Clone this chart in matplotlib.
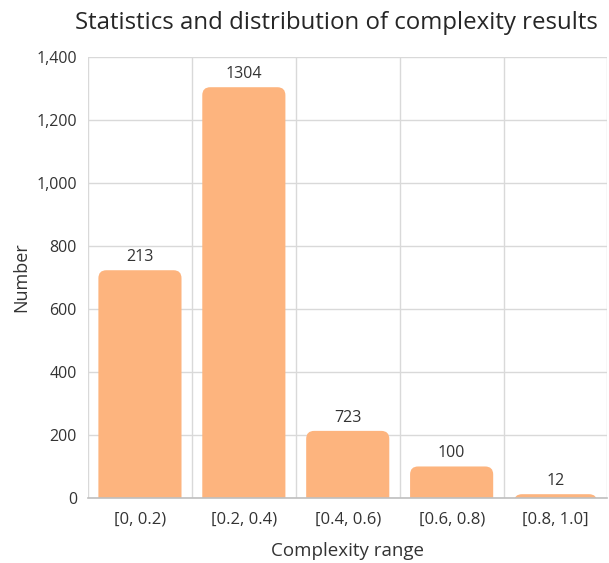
import matplotlib.pyplot as plt
from matplotlib.patches import FancyBboxPatch
from matplotlib.ticker import FuncFormatter

plt.rcParams['font.family'] = ['Open Sans', 'DejaVu Sans']

# Complexity histogram
ranges = ["[0, 0.2)", "[0.2, 0.4)", "[0.4, 0.6)", "[0.6, 0.8)", "[0.8, 1.0]"]
counts = [723, 1304, 213, 100, 12]
count_labels = ["213", "1304", "723", "100", "12"]

bar_color = "#FDB47E"
text_color = "#333333"
grid_color = "#D9D9D9"

fig = plt.figure(figsize=(6.09, 5.63), dpi=100)
ax = fig.add_axes([0.1445, 0.1155, 0.853, 0.7833])

ax.set_xlim(-0.5, len(ranges) - 0.5)
ax.set_ylim(0, 1400)

# bars with rounded top corners; the lower part sits below zero and gets clipped
bar_w = 0.8
x_per_px = (len(ranges)) / (0.853 * 609)
y_per_px = 1400 / (0.7833 * 563)
aspect = y_per_px / x_per_px
radius = 8 * x_per_px
for i, h in enumerate(counts):
    extend = 2 * radius * aspect
    patch = FancyBboxPatch((i - bar_w / 2, -extend), bar_w, h + extend,
                           boxstyle=f"round,pad=0,rounding_size={radius}",
                           mutation_aspect=aspect,
                           facecolor=bar_color, edgecolor="none", zorder=2)
    ax.add_patch(patch)
    patch.set_clip_on(True)
    ax.text(i, h + 16, count_labels[i], ha="center", va="bottom",
            fontsize=11.5, color=text_color, zorder=3)

# grid: horizontal at ticks, vertical at category boundaries
ax.set_yticks(range(0, 1401, 200))
ax.yaxis.set_major_formatter(FuncFormatter(lambda v, _: f"{int(v):,}"))
ax.set_xticks(range(len(ranges)))
ax.set_xticklabels(ranges)
ax.set_xticks([i - 0.5 for i in range(len(ranges) + 1)], minor=True)
ax.grid(True, axis="y", which="major", color=grid_color, linewidth=1, zorder=0)
ax.grid(True, axis="x", which="minor", color=grid_color, linewidth=1, zorder=0)
ax.set_axisbelow(True)

ax.tick_params(axis="both", which="both", length=0, labelcolor=text_color)
ax.tick_params(axis="y", pad=8, labelsize=11.5)
ax.tick_params(axis="x", pad=10, labelsize=12)

for side in ["top", "right", "left"]:
    ax.spines[side].set_visible(False)
ax.spines["bottom"].set_color("#BFBFBF")
ax.spines["bottom"].set_linewidth(1.2)
ax.spines["bottom"].set_zorder(4)

ax.set_xlabel("Complexity range", fontsize=13.5, color=text_color, labelpad=10)
ax.set_ylabel("Number", fontsize=13, color=text_color, labelpad=4)
ax.set_title("Statistics and distribution of complexity results",
             fontsize=17.3, color="#262626", pad=20, x=0.478)

fig.savefig("out.png", dpi=100)
